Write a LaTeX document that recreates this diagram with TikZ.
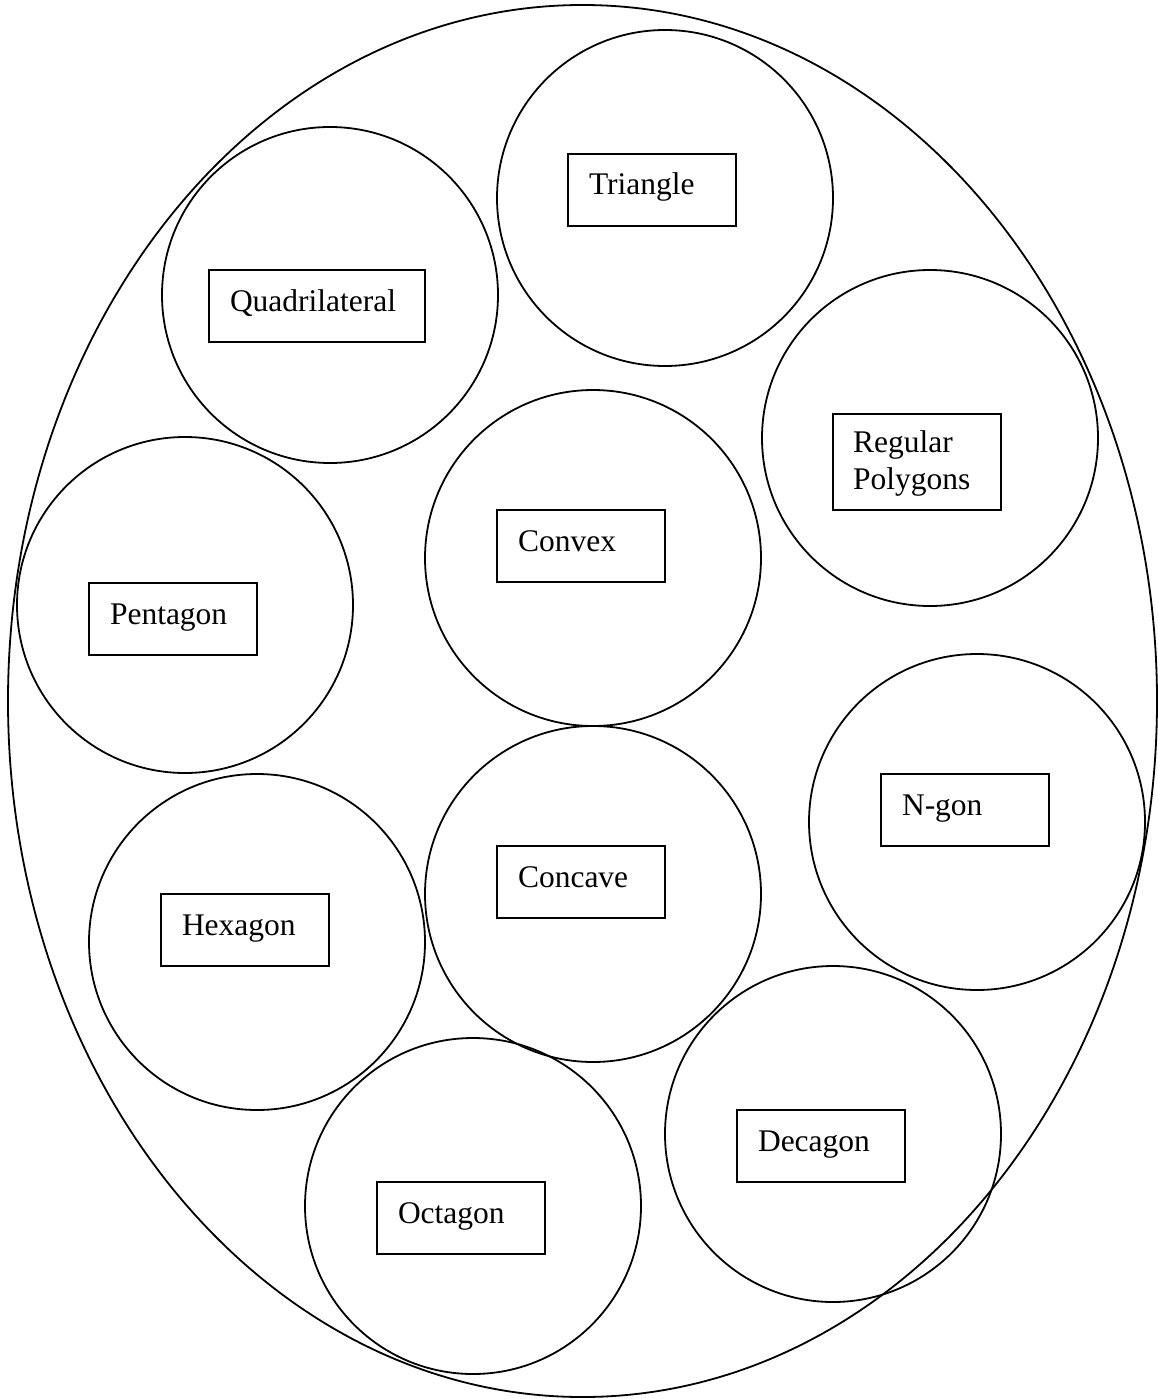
\documentclass[tikz,border=0pt]{standalone}
\usepackage{fontspec}
\setmainfont{Liberation Serif}
\usetikzlibrary{shapes.geometric}
\begin{document}
\begin{tikzpicture}[x=1pt,y=-1pt,line width=1.8pt,
  bubble/.style={draw,circle,minimum size=336pt,inner sep=0pt},
  labelbox/.style={draw,rectangle,minimum width=168pt,minimum height=72pt,inner sep=0pt},
  labeltext/.style={anchor=base west,inner sep=0pt,font=\fontsize{31.5}{37}\selectfont,align=left}]
\useasboundingbox (0,0) rectangle (1158,1399);
\node[draw,ellipse,minimum width=1149pt,minimum height=1392pt,inner sep=0pt] (outer) at (582.5,701) {};
% circles
\node[bubble] (cTri) at (665,198) {};
\node[bubble] (cQuad) at (330,295) {};
\node[bubble] (cReg) at (930,438) {};
\node[bubble] (cConvex) at (593,558) {};
\node[bubble] (cPent) at (185,605) {};
\node[bubble] (cNgon) at (977,822) {};
\node[bubble] (cConcave) at (593,894) {};
\node[bubble] (cHex) at (257,942) {};
\node[bubble] (cDec) at (833,1134) {};
\node[bubble] (cOct) at (473,1206) {};
% boxes
\node[labelbox] (bTri) at (652,190) {};
\node[labelbox,minimum width=216pt] (bQuad) at (317,306) {};
\node[labelbox,minimum height=96pt] (bReg) at (917,462) {};
\node[labelbox] (bConvex) at (581,546) {};
\node[labelbox] (bPent) at (173,619) {};
\node[labelbox] (bNgon) at (965,810) {};
\node[labelbox] (bConcave) at (581,882) {};
\node[labelbox] (bHex) at (245,930) {};
\node[labelbox] (bDec) at (821,1146) {};
\node[labelbox] (bOct) at (461,1218) {};
% texts
\node[labeltext] (tTri) at ([xshift=21pt,yshift=-5pt]bTri.west) {Triangle};
\node[labeltext] (tQuad) at ([xshift=21pt,yshift=-5pt]bQuad.west) {Quadrilateral};
\node[labeltext,anchor=north west] (tReg) at ([xshift=20pt,yshift=-17pt]bReg.north west) {Regular\\Polygons};
\node[labeltext] (tConvex) at ([xshift=21pt,yshift=-5pt]bConvex.west) {Convex};
\node[labeltext] (tPent) at ([xshift=21pt,yshift=-5pt]bPent.west) {Pentagon};
\node[labeltext] (tNgon) at ([xshift=21pt,yshift=-5pt]bNgon.west) {N-gon};
\node[labeltext] (tConcave) at ([xshift=21pt,yshift=-5pt]bConcave.west) {Concave};
\node[labeltext] (tHex) at ([xshift=21pt,yshift=-5pt]bHex.west) {Hexagon};
\node[labeltext] (tDec) at ([xshift=21pt,yshift=-5pt]bDec.west) {Decagon};
\node[labeltext] (tOct) at ([xshift=21pt,yshift=-5pt]bOct.west) {Octagon};
\end{tikzpicture}
\end{document}
